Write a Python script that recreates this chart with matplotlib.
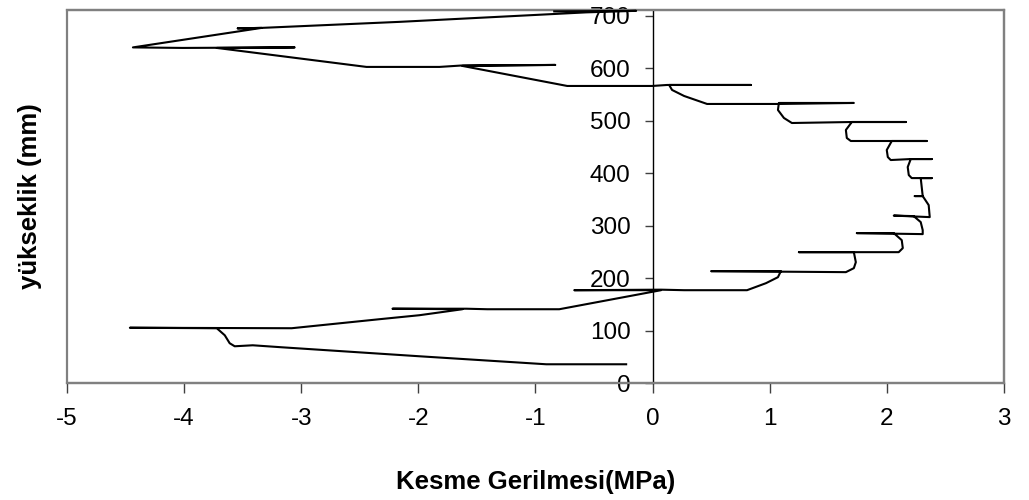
import matplotlib
matplotlib.use("Agg")
import matplotlib.pyplot as plt
from matplotlib.patches import Rectangle

plt.rcParams['font.family'] = ['Liberation Sans', 'DejaVu Sans']

# Shear stress profile (MPa) vs height (mm)
stress = [-0.840, -0.141, -0.567, -2.161, -3.338, -3.542, -3.338, -4.437,
          -4.011, -3.056, -3.721, -2.443, -1.820, -1.624, -0.831, -1.624,
          -0.729, -0.004, 0.124, 0.840, 0.141, 0.166, 0.269, 0.465,
          1.078, 1.718, 1.078, 1.070, 1.121, 1.189,
          1.701, 2.161, 1.701, 1.650, 1.658, 1.692,
          2.042, 2.340, 2.042, 1.999, 2.008, 2.033,
          2.204, 2.383, 2.204, 2.178, 2.187, 2.212,
          2.383, 2.289, 2.306, 2.238, 2.306, 2.357, 2.366,
          2.059, 2.229, 2.289, 2.306, 2.306,
          1.743, 2.059, 2.127, 2.136, 2.101,
          1.249, 1.718, 1.735, 1.718, 1.650,
          0.499, 1.095, 1.070, 0.968, 0.806,
          0.269, 0.072, -0.669, 0.072, -0.797, -1.411, -1.590,
          -2.221, -1.624, -1.991, -2.332, -3.082,
          -4.463, -3.721, -3.653, -3.611, -3.568, -3.414, -3.167,
          -1.991, -0.908, -0.226]
height = [708.4, 709.4, 706.5, 688.4, 676.9, 676.0, 676.9, 639.7,
          638.7, 639.7, 638.7, 602.5, 602.5, 605.3, 606.3, 604.4,
          566.2, 566.2, 568.1, 568.1, 568.1, 558.6, 547.1, 531.9,
          531.9, 533.8, 533.8, 520.4, 505.2, 495.6,
          497.5, 497.5, 497.5, 482.3, 467.0, 461.3,
          461.3, 461.3, 461.3, 444.1, 430.7, 425.0,
          426.9, 426.9, 426.9, 411.6, 396.4, 390.6,
          390.6, 390.6, 356.3, 356.3, 356.3, 339.1, 316.2,
          319.1, 318.1, 306.7, 291.4, 283.8,
          285.7, 285.7, 272.3, 257.1, 249.4,
          249.4, 249.4, 230.3, 218.9, 211.3,
          213.2, 213.2, 201.7, 190.3, 176.9,
          176.9, 177.9, 176.9, 176.9, 140.6, 140.6, 141.6,
          141.6, 140.6, 129.2, 121.6, 104.4,
          105.3, 104.4, 91.0, 75.8, 70.0, 71.9, 68.1,
          50.95, 35.7, 35.7]

x_ticks = [-5, -4, -3, -2, -1, 0, 1, 2, 3]
y_ticks = [0, 100, 200, 300, 400, 500, 600, 700]

fig = plt.figure(figsize=(10.29, 5.0), dpi=100)
ax = fig.add_axes([0.0651, 0.234, 0.9106, 0.746])

ax.plot(stress, height, color='black', lw=1.5, solid_joinstyle='round',
        clip_on=False, zorder=3)

ax.set_xlim(-5, 3)
ax.set_ylim(0, 711)
ax.set_xticks(x_ticks)
ax.set_xticklabels([str(v) for v in x_ticks])
ax.set_yticks(y_ticks)
ax.set_yticklabels([str(v) for v in y_ticks])

frame_col = '#808080'
for s in ['top', 'right', 'bottom']:
    ax.spines[s].set_color(frame_col)
    ax.spines[s].set_linewidth(1.6)
ax.spines['left'].set_position(('data', 0))
ax.spines['left'].set_color('black')
ax.spines['left'].set_linewidth(1.0)
ax.add_patch(Rectangle((0, 0), 1, 1, transform=ax.transAxes, fill=False,
                       edgecolor=frame_col, lw=1.6, clip_on=False, zorder=1))

ax.tick_params(axis='x', direction='out', length=7, width=1.0,
               color='#404040', labelsize=17.5, pad=11)
ax.tick_params(axis='y', direction='out', length=6, width=1.0,
               color='#404040', labelsize=17.5, pad=10)

ax.set_xlabel('Kesme Gerilmesi(MPa)', fontsize=18.5, fontweight='bold')
ax.xaxis.set_label_coords(0.5, -0.233)
ax.set_ylabel('yükseklik (mm)', fontsize=18.5, fontweight='bold')
ax.yaxis.set_label_coords(-0.027, 0.5)

fig.savefig('out.png', dpi=100)
